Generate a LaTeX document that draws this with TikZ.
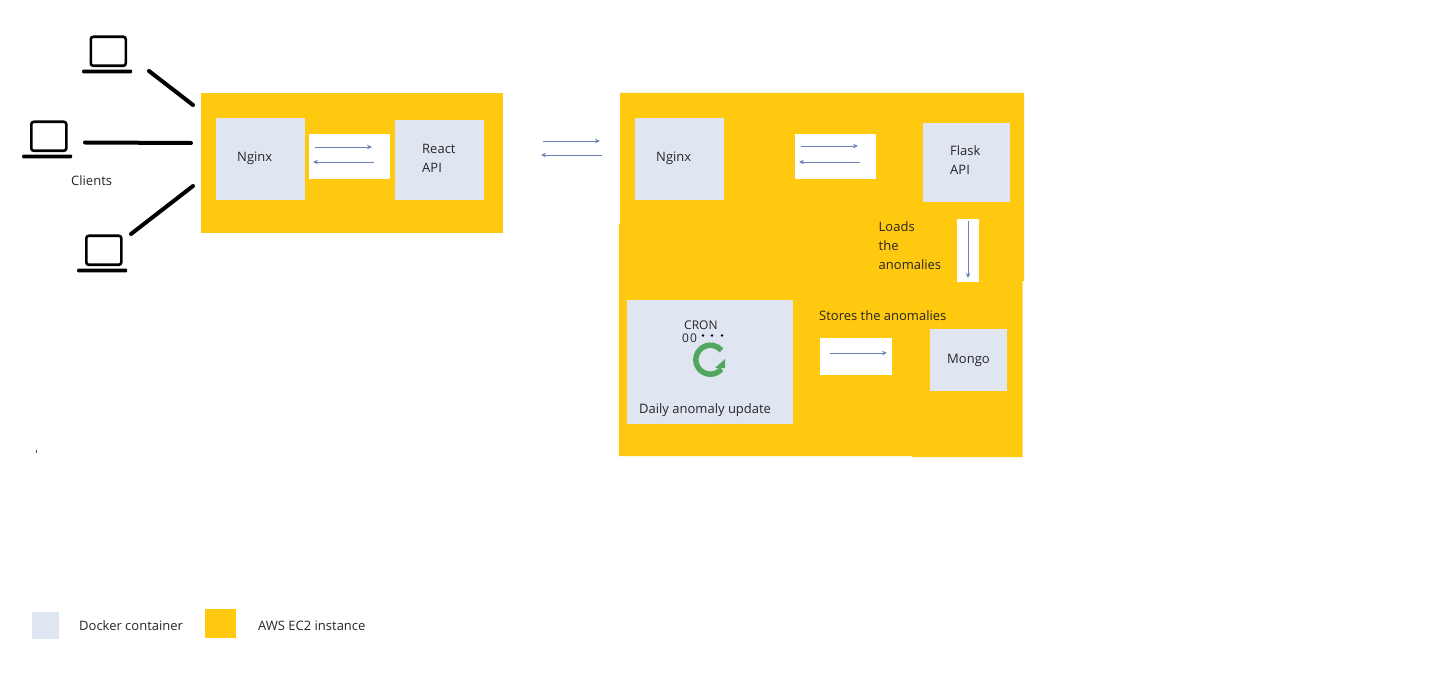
\documentclass[tikz,border=0pt]{standalone}
\usepackage{fontspec}
\setmainfont{Open Sans}
\definecolor{ecyellow}{HTML}{FFC90F}
\definecolor{dockerblue}{HTML}{E0E6F1}
\definecolor{arrowblue}{HTML}{6C82B6}
\definecolor{cyclegreen}{HTML}{52A760}
\usetikzlibrary{arrows.meta}
\tikzset{
  x=1pt,y=-1pt,
  ec2/.style={fill=ecyellow,draw=none},
  docker/.style={fill=dockerblue,draw=none,inner sep=0pt,anchor=north west},
  whitepad/.style={fill=white,draw=none,inner sep=0pt,anchor=north west},
  flow/.style={draw=arrowblue,line width=0.9pt,-{Stealth[length=5pt,width=4.5pt]}},
  wire/.style={draw=black,line width=4pt,line cap=round},
  screen/.style={draw=black,line width=2.6pt,rounded corners=2.5pt,fill=white,inner sep=0pt,anchor=north west,minimum width=35pt,minimum height=29pt},
  tray/.style={draw=none,fill=black,inner sep=0pt,anchor=north west,minimum width=50pt,minimum height=3.6pt,rounded corners=1pt},
  lbl/.style={anchor=base west,inner sep=0pt,font=\fontsize{13}{15}\selectfont,text=black!85},
  small/.style={anchor=base west,inner sep=0pt,font=\fontsize{12}{14}\selectfont,text=black!85},
}
\begin{document}
\begin{tikzpicture}
\useasboundingbox (0,0) rectangle (1456,676);
\fill[white] (0,0) rectangle (1456,676);
% EC2 instances
\fill[ec2] (201,93) rectangle (503,233);
\fill[ec2] (620,93) -- (1024,93) -- (1024,281) -- (1022.5,281) -- (1022.5,457) -- (912,457) -- (912,456) -- (619,456) -- (619,224) -- (620,224) -- cycle;
% left instance
\node[docker,minimum width=89pt,minimum height=82pt] (nginxa) at (216,118) {};
\node[whitepad,minimum width=81pt,minimum height=45pt] (pada) at (309,134) {};
\node[docker,minimum width=89pt,minimum height=80pt] (react) at (395,120) {};
\node[lbl] (nginxatxt) at (237,162) {Nginx};
\node[lbl] (reacttxt) at (422,154) {React};
\node[lbl] (reactapi) at (422,173) {API};
\coordinate (a1) at (315,147); \coordinate (a2) at (372,147);
\coordinate (a3) at (374,162); \coordinate (a4) at (313,162);
\draw[flow] (a1) -- (a2);
\draw[flow] (a3) -- (a4);
% between instances
\coordinate (m1) at (543,141); \coordinate (m2) at (600,141);
\coordinate (m3) at (602,155); \coordinate (m4) at (541,155);
\draw[flow] (m1) -- (m2);
\draw[flow] (m3) -- (m4);
% right instance
\node[docker,minimum width=89pt,minimum height=82pt] (nginxb) at (635,118) {};
\node[whitepad,minimum width=81pt,minimum height=45pt] (padb) at (795,134) {};
\node[docker,minimum width=87pt,minimum height=79pt] (flask) at (923,123) {};
\node[whitepad,minimum width=22pt,minimum height=63pt] (padc) at (957,219) {};
\node[docker,minimum width=166pt,minimum height=124pt] (cron) at (627,300) {};
\node[whitepad,minimum width=72pt,minimum height=37pt] (padd) at (820,338) {};
\node[docker,minimum width=77pt,minimum height=62pt] (mongo) at (930,329) {};
\node[lbl] (nginxbtxt) at (656,162) {Nginx};
\node[lbl] (flasktxt) at (950,156) {Flask};
\node[lbl] (flaskapi) at (950,175) {API};
\node[lbl] (loads1) at (878.5,232) {Loads};
\node[lbl] (loads2) at (878.5,251) {the};
\node[lbl] (loads3) at (878.5,270) {anomalies};
\node[lbl] (stores) at (819,320) {Stores the anomalies};
\node[lbl] (mongotxt) at (947,363) {Mongo};
\node[small] (crontxt) at (684,329) {CRON};
\node[small] (zeros) at (682,342) {0\kern1pt0};
\foreach \px/\nm in {703/d1,712/d2,722/d3}{\fill[black] (\px,335.5) circle (1.4pt);}
\node[lbl] (daily) at (639,413) {Daily anomaly update};
\coordinate (b1) at (801,146); \coordinate (b2) at (858,146);
\coordinate (b3) at (860,162); \coordinate (b4) at (799,162);
\coordinate (c1) at (968,221); \coordinate (c2) at (968,278);
\coordinate (e1) at (830,353); \coordinate (e2) at (887,353);
\draw[flow] (b1) -- (b2);
\draw[flow] (b3) -- (b4);
\draw[flow] (c1) -- (c2);
\draw[flow] (e1) -- (e2);
% refresh icon
\draw[cyclegreen,line width=5.5pt] (721.5,369) arc[start angle=-40,end angle=-320,radius=14.5pt];
\fill[cyclegreen] (725,359) -- (725,368) -- (715,368) -- cycle;
% laptops
\node[screen] (lap1) at (89.5,35.5) {};
\node[tray] (tray1) at (82,69.5) {};
\node[screen] (lap2) at (30,120.5) {};
\node[tray] (tray2) at (22,154.5) {};
\node[screen] (lap3) at (85,234.5) {};
\node[tray] (tray3) at (77,268.5) {};
\node[lbl] (clients) at (71,186) {Clients};
% client links
\coordinate (w1a) at (149,71); \coordinate (w1b) at (193,105);
\coordinate (w2a) at (85,142.5); \coordinate (w2b) at (191,143);
\coordinate (w3a) at (131,234); \coordinate (w3b) at (193,186);
\draw[wire] (w1a) -- (w1b);
\draw[wire] (w2a) -- (w2b);
\draw[wire] (w3a) -- (w3b);
% legend
\node[docker,minimum width=27pt,minimum height=27pt] (legd) at (32,612) {};
\node[docker,fill=ecyellow,minimum width=31pt,minimum height=29pt] (lege) at (205,609) {};
\node[lbl] (legdtxt) at (79,630) {Docker container};
\node[lbl] (legetxt) at (258,630) {AWS EC2 instance};
\fill[black!70] (35.5,450) rectangle (36.5,453);
\end{tikzpicture}
\end{document}
